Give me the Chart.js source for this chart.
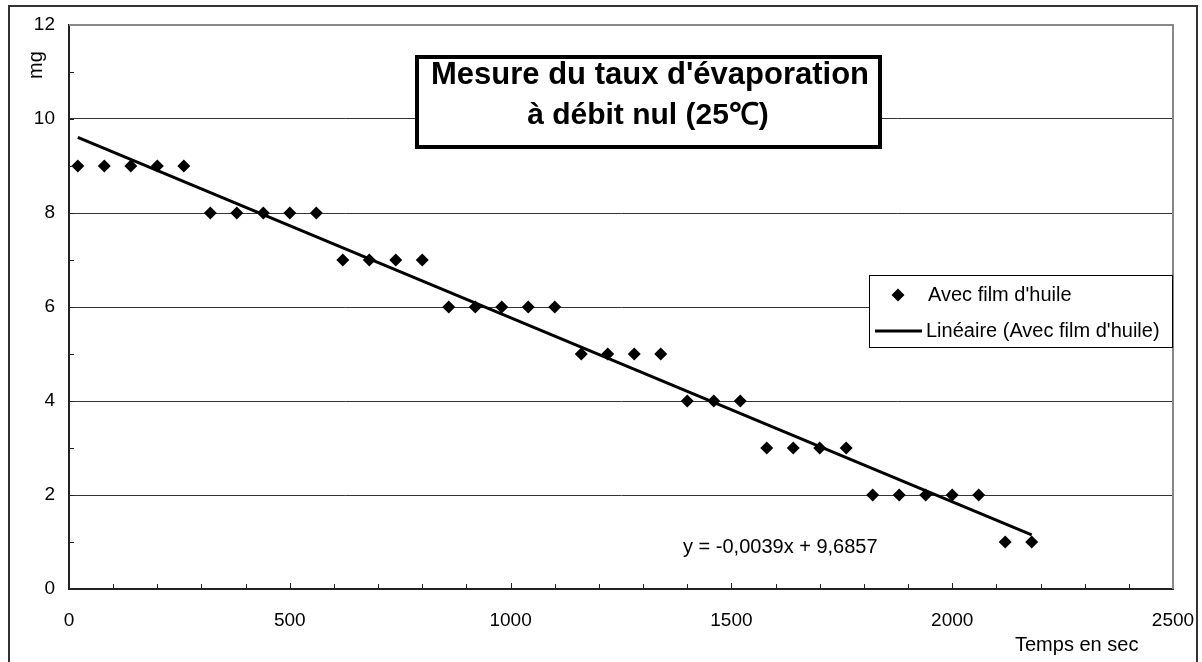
<!DOCTYPE html>
<html>
<head>
<meta charset="utf-8">
<script src="https://cdn.jsdelivr.net/npm/chart.js@4.4.1/dist/chart.umd.min.js"></script>
<style>
  html, body { margin: 0; padding: 0; background: #fff; }
  canvas { display: block; }
</style>
</head>
<body>
<canvas id="evap" width="1202" height="662"></canvas>
<script>
// Données
const temps = [20, 80, 140, 200, 260, 320, 380, 440, 500, 560, 620, 680, 740, 800,
  860, 920, 980, 1040, 1100, 1160, 1220, 1280, 1340, 1400, 1460, 1520, 1580, 1640,
  1700, 1760, 1820, 1880, 1940, 2000, 2060, 2120, 2180];
const masse = [9, 9, 9, 9, 9, 8, 8, 8, 8, 8, 7, 7, 7, 7,
  6, 6, 6, 6, 6, 5, 5, 5, 5, 4, 4, 4, 3, 3,
  3, 3, 2, 2, 2, 2, 2, 1, 1];
const xTicks = [0, 500, 1000, 1500, 2000, 2500];
const yTicks = [0, 2, 4, 6, 8, 10, 12];
const serieLabel = "Avec film d'huile";
const trendLabel = "Linéaire (Avec film d'huile)";
const equation = "y = -0,0039x + 9,6857";
const titre = ["Mesure du taux d'évaporation", "à débit nul (25℃)"];
const yTitle = "mg";
const xTitle = "Temps en sec";

const FONT = '"Liberation Sans", Arial, sans-serif';
Chart.defaults.font.family = FONT;
Chart.defaults.color = '#000';

// Régression linéaire (courbe de tendance)
const n = temps.length;
const mx = temps.reduce((a, b) => a + b, 0) / n;
const my = masse.reduce((a, b) => a + b, 0) / n;
let sxy = 0, sxx = 0;
for (let i = 0; i < n; i++) {
  sxy += (temps[i] - mx) * (masse[i] - my);
  sxx += (temps[i] - mx) * (temps[i] - mx);
}
const pente = sxy / sxx;
const origine = my - pente * mx;
const tendance = [temps[0], temps[n - 1]].map(x => ({ x: x, y: origine + pente * x }));

// Décor : cadres, graduations, titre, légende, équation
const decor = {
  id: 'decor',
  afterDraw(chart) {
    const ctx = chart.ctx;
    const a = chart.chartArea;
    const sx = chart.scales.x, sy = chart.scales.y;
    ctx.save();

    // bord gris de la zone de tracé (haut et droite)
    ctx.strokeStyle = '#888';
    ctx.lineWidth = 2;
    ctx.beginPath();
    ctx.moveTo(a.left, a.top);
    ctx.lineTo(a.right, a.top);
    ctx.lineTo(a.right, a.bottom);
    ctx.stroke();

    // graduations intérieures
    ctx.strokeStyle = '#222';
    ctx.lineWidth = 1;
    ctx.beginPath();
    for (let v = 100; v < 2500; v += 100) {
      const px = Math.round(sx.getPixelForValue(v)) + 0.5;
      const len = v % 500 === 0 ? 6 : 5;
      ctx.moveTo(px, a.bottom);
      ctx.lineTo(px, a.bottom - len);
    }
    for (let v = 1; v < 12; v += 1) {
      const py = Math.round(sy.getPixelForValue(v)) + 0.5;
      ctx.moveTo(a.left, py);
      ctx.lineTo(a.left + 5, py);
    }
    ctx.stroke();

    // titre dans son cadre
    ctx.fillStyle = '#fff';
    ctx.fillRect(417, 57, 463, 90);
    ctx.strokeStyle = '#000';
    ctx.lineWidth = 4;
    ctx.strokeRect(417, 57, 463, 90);
    ctx.fillStyle = '#000';
    ctx.textAlign = 'center';
    ctx.textBaseline = 'middle';
    ctx.font = 'bold 31px ' + FONT;
    ctx.fillText(titre[0], 650, 75);
    ctx.font = 'bold 30px ' + FONT;
    ctx.fillText(titre[1], 648, 116);

    // légende
    ctx.fillStyle = '#fff';
    ctx.fillRect(869.5, 275.5, 303, 72);
    ctx.strokeStyle = '#000';
    ctx.lineWidth = 1;
    ctx.strokeRect(869.5, 275.5, 303, 72);
    ctx.fillStyle = '#000';
    ctx.beginPath();
    ctx.moveTo(898, 295 - 6.5);
    ctx.lineTo(898 + 6.5, 295);
    ctx.lineTo(898, 295 + 6.5);
    ctx.lineTo(898 - 6.5, 295);
    ctx.closePath();
    ctx.fill();
    ctx.lineWidth = 3;
    ctx.beginPath();
    ctx.moveTo(875, 331);
    ctx.lineTo(922, 331);
    ctx.stroke();
    ctx.font = '20px ' + FONT;
    ctx.textAlign = 'left';
    ctx.textBaseline = 'middle';
    ctx.fillText(chart.data.datasets[0].label, 928, 295);
    ctx.fillText(chart.data.datasets[1].label, 926, 331);

    // équation de la tendance
    ctx.fillText(equation, 683, 547);

    // titres des axes
    ctx.fillText(xTitle, 1015, 645);
    ctx.save();
    ctx.translate(36, 65);
    ctx.rotate(-Math.PI / 2);
    ctx.textAlign = 'center';
    ctx.fillText(yTitle, 0, 0);
    ctx.restore();

    // cadre extérieur
    ctx.strokeStyle = '#333';
    ctx.lineWidth = 2;
    ctx.strokeRect(9, 6, 1188, 700);

    ctx.restore();
  }
};

new Chart(document.getElementById('evap'), {
  type: 'scatter',
  data: {
    datasets: [
      {
        label: serieLabel,
        data: temps.map((x, i) => ({ x: x, y: masse[i] })),
        pointStyle: 'rectRot',
        pointRadius: 6.5,
        pointHoverRadius: 6.5,
        backgroundColor: '#000',
        borderColor: '#000',
        borderWidth: 0,
        order: 2
      },
      {
        type: 'line',
        label: trendLabel,
        data: tendance,
        borderColor: '#000',
        borderWidth: 3,
        pointRadius: 0,
        fill: false,
        order: 1
      }
    ]
  },
  options: {
    responsive: false,
    animation: false,
    layout: { padding: { left: 10, top: 25, right: 29, bottom: 0 } },
    plugins: {
      legend: { display: false },
      tooltip: { enabled: false },
      title: { display: false }
    },
    scales: {
      x: {
        type: 'linear',
        min: 0,
        max: 2500,
        afterBuildTicks: s => { s.ticks = xTicks.map(v => ({ value: v })); },
        afterFit: s => { s.height = 73; s.paddingLeft = 0; s.paddingRight = 0; },
        grid: { display: false, drawTicks: false },
        border: { display: true, color: '#222', width: 2 },
        ticks: { padding: 20, font: { size: 19 }, color: '#000', maxRotation: 0,
                 callback: v => String(v) }
      },
      y: {
        type: 'linear',
        min: 0,
        max: 12,
        afterBuildTicks: s => { s.ticks = yTicks.map(v => ({ value: v })); },
        afterFit: s => { s.width = 59; s.paddingTop = 0; s.paddingBottom = 0; },
        grid: { color: '#333', lineWidth: 1, drawTicks: false },
        border: { display: true, color: '#222', width: 2 },
        ticks: { padding: 14, font: { size: 19 }, color: '#000', callback: v => String(v) }
      }
    }
  },
  plugins: [decor]
});
</script>
</body>
</html>
